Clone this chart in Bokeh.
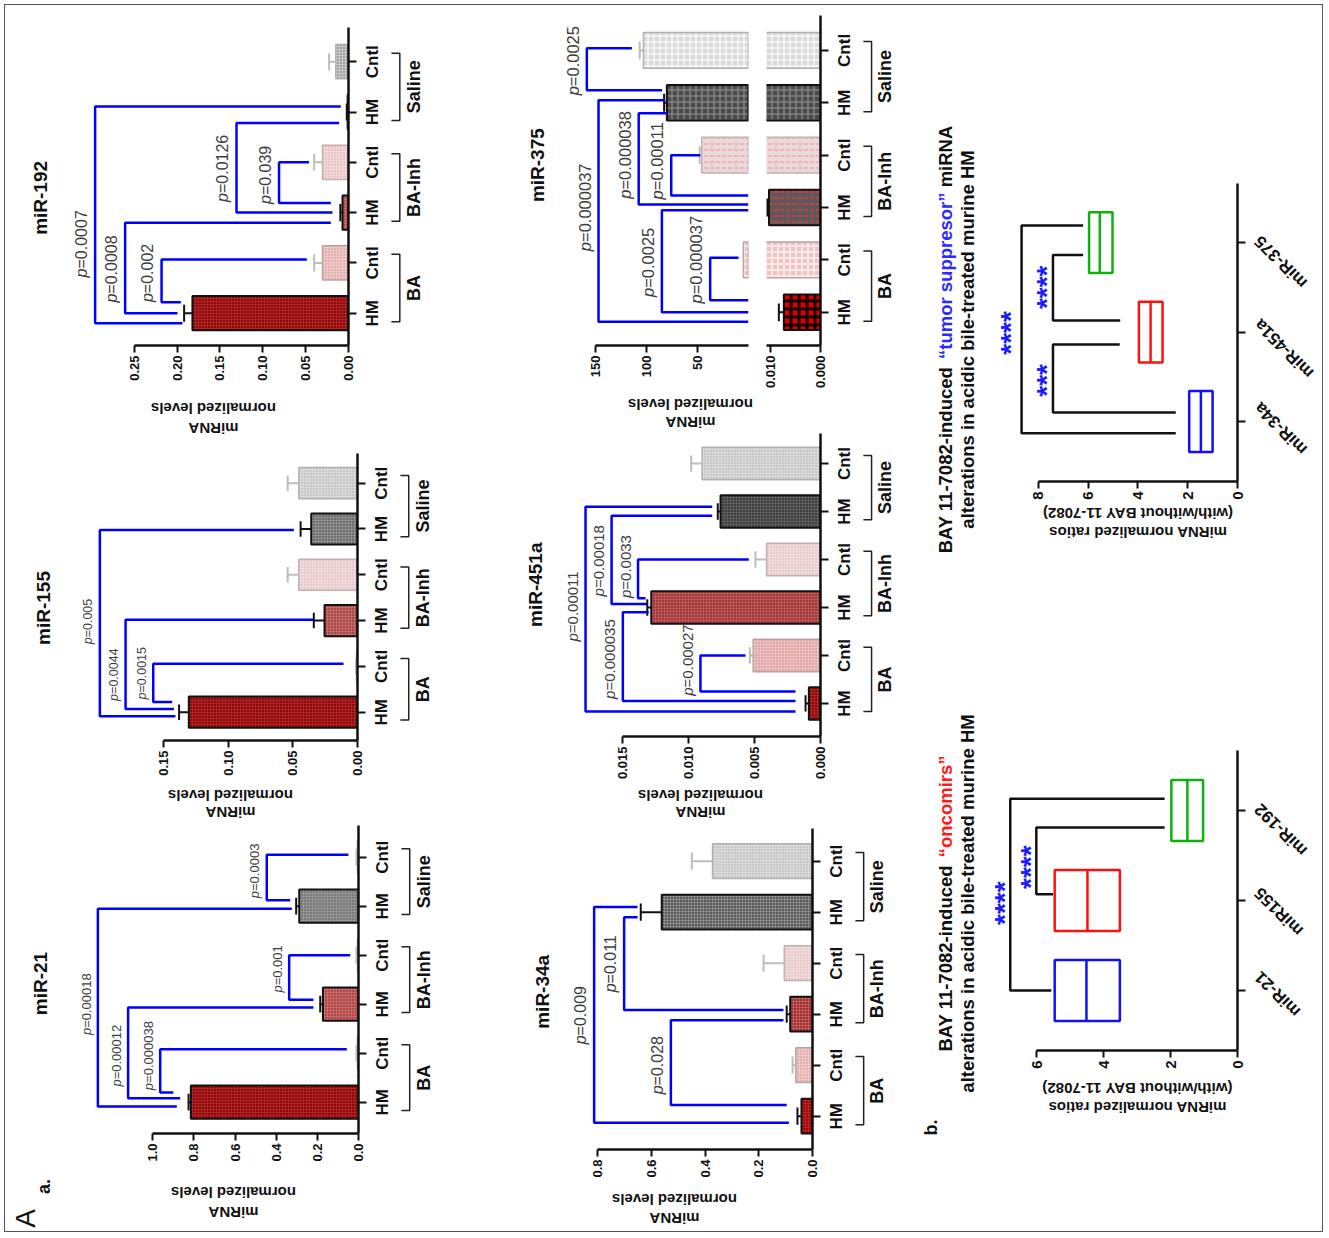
import math
from bokeh.plotting import figure
from bokeh.models import (Range1d, FixedTicker, ColumnDataSource,
                          CustomJSTickFormatter, Spacer)
from bokeh.layouts import row, column
from bokeh.embed import file_html
from bokeh.resources import INLINE
from bokeh.core.properties import value

FONT = "Liberation Sans"
INK = "#111111"

# ============================ DATA ============================
group_names = ["BA", "BA-Inh", "Saline"]
bar_names = ["HM", "Cntl", "HM", "Cntl", "HM", "Cntl"]
axis_lines = ["normalized levels", "miRNA"]

# tests: (bar a, leg shift a, leg end a, bar b, leg shift b, leg end b, bracket level, p, label position)
mir21_mean = [0.815, 0.005, 0.173, 0.005, 0.288, 0.005]
mir21_upper = [0.826, 0.010, 0.186, 0.010, 0.303, 0.010]
mir21_ticks = [0.0, 0.2, 0.4, 0.6, 0.8, 1.0]
mir21_tick_labels = ["0.0", "0.2", "0.4", "0.6", "0.8", "1.0"]
mir21_tests = [
    (0, 0.20, 0.900, 1, 0.08, 0.057, 0.964, "0.000038", 0.95),
    (0, 0.08, 0.867, 2, -0.07, 0.219, 1.120, "0.00012", 0.95),
    (0, -0.09, 0.883, 4, -0.05, 0.324, 1.267, "0.00018", 2.00),
    (2, 0.09, 0.219, 3, 0.00, 0.040, 0.337, "0.001", 2.72),
    (4, 0.12, 0.332, 5, 0.05, 0.049, 0.446, "0.0003", 4.72),
]

mir155_mean = [0.1305, 0.0007, 0.0255, 0.0454, 0.0358, 0.0454]
mir155_upper = [0.138, 0.0012, 0.0338, 0.054, 0.044, 0.054]
mir155_ticks = [0.0, 0.05, 0.10, 0.15]
mir155_tick_labels = ["0.00", "0.05", "0.10", "0.15"]
mir155_tests = [
    (0, 0.22, 0.1433, 1, 0.06, 0.0108, 0.158, "0.0015", 0.85),
    (0, 0.07, 0.142, 2, 0.02, 0.034, 0.1794, "0.0044", 0.82),
    (0, -0.09, 0.1408, 4, -0.02, 0.0492, 0.1993, "0.005", 1.98),
]

mir192_mean = [0.182, 0.0303, 0.007, 0.0303, 0.001, 0.0148]
mir192_upper = [0.1917, 0.040, 0.0095, 0.040, 0.002, 0.0226]
mir192_ticks = [0.0, 0.05, 0.10, 0.15, 0.20, 0.25]
mir192_tick_labels = ["0.00", "0.05", "0.10", "0.15", "0.20", "0.25"]
mir192_tests = [
    (0, 0.22, 0.1955, 1, 0.07, 0.0486, 0.218, "0.002", 0.80),
    (0, 0.00, 0.1994, 2, -0.20, 0.0206, 0.2605, "0.0008", 0.88),
    (0, -0.20, 0.1936, 4, 0.11, 0.009, 0.2955, "0.0007", 1.38),
    (2, 0.00, 0.0187, 4, -0.22, 0.011, 0.1306, "0.0126", 2.88),
    (2, 0.19, 0.0206, 3, 0.00, 0.046, 0.081, "0.039", 2.75),
]

mir34a_mean = [0.041, 0.062, 0.083, 0.105, 0.561, 0.372]
mir34a_upper = [0.056, 0.074, 0.096, 0.182, 0.639, 0.449]
mir34a_ticks = [0.0, 0.2, 0.4, 0.6, 0.8]
mir34a_tick_labels = ["0.0", "0.2", "0.4", "0.6", "0.8"]
mir34a_tests = [
    (0, 0.22, 0.096, 2, -0.12, 0.108, 0.527, "0.028", 1.00),
    (0, -0.13, 0.088, 4, 0.10, 0.651, 0.8126, "0.009", 1.98),
    (2, 0.08, 0.108, 4, -0.10, 0.651, 0.701, "0.011", 3.00),
]

mir451a_mean = [0.00088, 0.00509, 0.0128, 0.00408, 0.00756, 0.00895]
mir451a_upper = [0.00113, 0.00534, 0.0131, 0.00492, 0.00777, 0.00978]
mir451a_ticks = [0.0, 0.005, 0.010, 0.015]
mir451a_tick_labels = ["0.000", "0.005", "0.010", "0.015"]
mir451a_tests = [
    (0, 0.25, 0.00189, 1, 0.00, 0.00567, 0.00908, "0.00027", 0.90),
    (0, 0.05, 0.00189, 2, -0.10, 0.01300, 0.01495, "0.000035", 0.92),
    (0, -0.17, 0.00189, 4, 0.10, 0.00819, 0.01777, "0.00011", 2.03),
    (2, 0.07, 0.01310, 4, -0.09, 0.00819, 0.01580, "0.00018", 2.97),
    (2, 0.19, 0.01323, 3, 0.00, 0.00542, 0.01380, "0.0033", 2.85),
]

# miR-375 uses a broken value axis (low segment 0-0.010, high segment up to 150)
mir375_mean = [0.00733, 5.0, 0.0103, 46.0, 80.3, 103.3]
mir375_upper = [0.00833, 5.0, 0.0107, 48.0, 83.0, 107.0]
mir375_low_ticks = [0.0, 0.010]
mir375_low_tick_labels = ["0.000", "0.010"]
mir375_high_ticks = [50, 100, 150]
mir375_high_tick_labels = ["50", "100", "150"]
mir375_tests = [
    (0, 0.23, 0.0, 1, 0.04, 9.8, 37.7, "0.000037", 1.00),
    (0, 0.00, 0.0, 2, -0.05, 0.0, 85.2, "0.0025", 0.95),
    (0, -0.18, 0.0, 4, 0.05, 82.0, 147.5, "0.000037", 2.00),
    (2, 0.06, 0.0, 4, -0.20, 80.0, 108.0, "0.000038", 3.00),
    (2, 0.23, 0.0, 3, 0.00, 47.5, 76.0, "0.00011", 2.90),
    (4, 0.24, 85.0, 5, 0.04, 114.7, 159.0, "0.0025", 4.80),
]

# panel b: ratios with/without BAY 11-7082 (box = range, line = median)
onco_names = ["miR-21", "miR155", "miR-192"]
onco_low = [3.52, 3.52, 1.03]
onco_high = [5.47, 5.47, 1.98]
onco_median = [4.52, 4.49, 1.50]
onco_ticks = [0, 2, 4, 6]
onco_tick_labels = ["0", "2", "4", "6"]
onco_tests = [
    (0, 0.00, 5.57, 2, 0.13, 2.18, 6.80, "****", 0.97),
    (1, 0.07, 5.52, 2, -0.19, 2.18, 6.02, "****", 1.37),
]
supp_names = ["miR-34a", "miR-451a", "miR-375"]
supp_low = [1.00, 3.01, 5.02]
supp_high = [1.94, 3.96, 5.96]
supp_median = [1.47, 3.49, 5.53]
supp_ticks = [0, 2, 4, 6, 8]
supp_tick_labels = ["0", "2", "4", "6", "8"]
supp_tests = [
    (0, -0.13, 2.48, 2, 0.19, 6.20, 8.67, "****", 0.99),
    (0, 0.10, 2.48, 1, -0.14, 4.73, 7.41, "***", 0.46),
    (1, 0.13, 4.71, 2, -0.14, 6.20, 7.41, "****", 1.50),
]
ratio_axis_lines = ["(with/without BAY 11-7082)", "miRNA normalized ratios"]
onco_title = [[("BAY 11-7082-induced ", INK), ("\u201concomirs\u201d", "#ff1a1a")],
              [("alterations in acidic bile-treated murine HM", INK)]]
supp_title = [[("BAY 11-7082-induced ", INK), ("\u201ctumor suppresor\u201d", "#2a2aff"), (" miRNA", INK)],
              [("alterations in acidic bile-treated murine HM", INK)]]

# ============================ STYLES ============================
def make_style(**over):
    st = dict(
        fill=["#8c0a0a", "#e2a4a4", "#b04a4a", "#e6c4c4", "#7a7a7a", "#c2c2c2"],
        hatch=["#c83a3a", "#f7dcdc", "#d88080", "#f8e8e8", "#aaaaaa", "#e8e8e8"],
        line=["#111111", "#b8a2a2", "#111111", "#c0b0b0", "#111111", "#b0b0b0"],
        lw=[2, 1.5, 2, 1.5, 2, 1.5],
        err=["#111111", "#bdbdbd", "#111111", "#bdbdbd", "#111111", "#bdbdbd"],
        pattern=["cross"] * 6, scale=[3] * 6, weight=[1] * 6, alpha=[0.5] * 6)
    st.update(over)
    return st

REG = {"p": 556, "=": 584, ".": 278}
BOLD = {" ": 278, "-": 333, ".": 278, "/": 278, "(": 333, ")": 333,
        "\u201c": 500, "\u201d": 500, "A": 722, "B": 722, "H": 722, "M": 833,
        "N": 722, "R": 722, "Y": 667, "a": 556, "b": 611, "c": 556, "d": 611,
        "e": 556, "f": 333, "g": 611, "h": 611, "i": 278, "j": 278, "k": 556,
        "l": 278, "m": 889, "n": 611, "o": 611, "p": 611, "q": 611, "r": 389,
        "s": 556, "t": 333, "u": 611, "v": 556, "w": 778, "x": 556, "y": 556,
        "z": 500}


def text_w(s, size, table):
    return sum(table.get(ch, 556) for ch in s) * size / 1000.0


FMT = "const i = t.findIndex((v) => Math.abs(v - tick) < 1e-9); return i < 0 ? '' : l[i];"


def fmt(ticks, labels):
    return CustomJSTickFormatter(args=dict(t=list(ticks), l=list(labels)), code=FMT)


def new_fig(w, h, xr, yr, mbl, mbr, mbt, mbb, **kw):
    p = figure(width=w, height=h, x_range=xr, y_range=yr, toolbar_location=None,
               output_backend="svg", min_border_left=mbl, min_border_right=mbr,
               min_border_top=mbt, min_border_bottom=mbb, **kw)
    p.outline_line_color = None
    p.grid.visible = False
    return p


def strip_fig(width, height, items):
    """A plain text strip; y counts pixels down from its top edge."""
    s = new_fig(width, height, Range1d(0, width), Range1d(height, 0), 0, 0, 0, 0,
                x_axis_location=None, y_axis_location=None)
    for (x, y, t, ang, size, style, color, align) in items:
        s.text(x=[x], y=[y], text=[t], angle=ang, text_align=align,
               text_baseline="middle", text_font=value(FONT), text_font_size=size,
               text_font_style=style, text_color=color)
    return s


def axis_common(ax):
    ax.axis_line_color = INK
    ax.axis_line_width = 2.5
    ax.major_tick_line_color = INK
    ax.major_tick_line_width = 2
    ax.minor_tick_line_color = None
    ax.major_tick_in = 0


def value_axis(ax, ticks, labels, bounds, size="13px"):
    axis_common(ax)
    ax.ticker = FixedTicker(ticks=list(ticks))
    ax.formatter = fmt(ticks, labels)
    ax.bounds = bounds if bounds is not None else "auto"
    ax.major_tick_out = 7
    ax.major_label_orientation = math.pi / 2
    ax.major_label_standoff = 3
    ax.major_label_text_font = FONT
    ax.major_label_text_font_size = size
    ax.major_label_text_font_style = "bold"
    ax.major_label_text_color = INK


def cat_axis(ax, n=6):
    axis_common(ax)
    ax.ticker = FixedTicker(ticks=list(range(n)))
    ax.major_tick_out = 8
    ax.major_label_text_font_size = "1px"
    ax.major_label_text_color = None
    ax.major_label_standoff = 0


def group_fig(width, height, yr, mbt, mbb):
    b = new_fig(width, height, Range1d(0, width - 24), yr, 24, 0, mbt, mbb,
                x_axis_location=None, y_axis_location="left")
    ax = b.yaxis[0]
    ax.ticker = FixedTicker(ticks=list(range(6)))
    ax.formatter = fmt(range(6), bar_names)
    ax.major_label_orientation = "vertical"
    ax.axis_line_color = None
    ax.major_tick_line_color = None
    ax.minor_tick_line_color = None
    ax.major_label_standoff = 2
    ax.major_label_text_font = FONT
    ax.major_label_text_font_size = "17px"
    ax.major_label_text_font_style = "bold"
    ax.major_label_text_color = INK
    n = len(group_names)
    b.multi_line([[1, 10, 10, 1] for g in range(n)],
                 [[2 * g - 0.17, 2 * g - 0.17, 2 * g + 1.17, 2 * g + 1.17] for g in range(n)],
                 line_color="#222222", line_width=1.5)
    b.text(x=[25] * n, y=[2 * g + 0.5 for g in range(n)], text=group_names,
           angle=math.pi / 2, text_align="center", text_baseline="middle",
           text_font=value(FONT), text_font_size="18px", text_font_style="bold",
           text_color=INK)
    return b


def draw_bars(p, mean, st, keep=None, cap=None):
    idx = [i for i in range(len(mean)) if keep is None or keep(i)]
    src = ColumnDataSource(dict(
        y=idx,
        right=[mean[i] if cap is None else min(mean[i], cap) for i in idx],
        fill=[st["fill"][i] for i in idx], line=[st["line"][i] for i in idx],
        lw=[st["lw"][i] for i in idx], hp=[st["pattern"][i] for i in idx],
        hc=[st["hatch"][i] for i in idx], hs=[st["scale"][i] for i in idx],
        hw=[st["weight"][i] for i in idx], ha=[st["alpha"][i] for i in idx]))
    p.hbar(y="y", left=0, right="right", height=0.68, source=src,
           fill_color="fill", line_color="line", line_width="lw",
           hatch_pattern="hp", hatch_color="hc", hatch_scale="hs",
           hatch_weight="hw", hatch_alpha="ha")


def draw_errors(p, mean, upper, st, keep=None):
    idx = [i for i in range(len(mean)) if upper[i] > mean[i] and (keep is None or keep(i))]
    if not idx:
        return
    col = [st["err"][i] for i in idx]
    up = [upper[i] for i in idx]
    p.segment(x0=[mean[i] for i in idx], y0=idx, x1=up, y1=idx, line_color=col, line_width=2)
    p.segment(x0=up, y0=[i - 0.17 for i in idx], x1=up, y1=[i + 0.17 for i in idx],
              line_color=col, line_width=2)


def draw_tests(p, tests, xppu, yppc, fs):
    xs, ys = [], []
    px, py, rest = [], [], []
    gap = 0.6 * fs + 4
    for (a, ao, ae, b, bo, be, lvl, pv, lp) in tests:
        xs.append([ae, lvl, lvl, be])
        ys.append([a + ao, a + ao, b + bo, b + bo])
        r = "=" + pv
        wp = text_w("p", fs, REG)
        wr = text_w(r, fs, REG)
        px.append(lvl + gap / xppu)
        py.append(lp + (wp - (wp + wr) / 2.0) / yppc)
        rest.append(r)
    p.multi_line(xs, ys, line_color="#0000ff", line_width=2.5)
    common = dict(angle=math.pi / 2, text_baseline="middle", text_font=value(FONT),
                  text_font_size="%gpx" % fs, text_color="#3d3d3d")
    p.text(x=px, y=py, text=["p"] * len(px), text_align="right", text_font_style="italic", **common)
    p.text(x=px, y=py, text=rest, text_align="left", text_font_style="normal", **common)


def axis_items(x, ys, lines, size="15px"):
    return [(x, y, t, math.pi, size, "bold", INK, "center") for y, t in zip(ys, lines)]


def make_bar_panel(title, mean, upper, ticks, tick_labels, tests, st, lay, extra=()):
    W, H, tw, mbt, fh, mbb = lay["W"], lay["H"], lay["tw"], lay["mbt"], lay["fh"], lay["mbb"]
    Hm = mbt + fh + mbb
    yr = Range1d(lay["ymin"], lay["ymax"])
    p = new_fig(W - tw, Hm, Range1d(lay["xmax"], 0), yr, 0, 12, mbt, mbb,
                y_axis_location="right")
    value_axis(p.xaxis[0], ticks, tick_labels, (ticks[0], ticks[-1]))
    cat_axis(p.yaxis[0])
    fw = W - tw - 12
    xppu = fw / lay["xmax"]
    yppc = fh / (lay["ymax"] - lay["ymin"])
    draw_bars(p, mean, st)
    draw_errors(p, mean, upper, st)
    draw_tests(p, tests, xppu, yppc, lay["pfs"])
    g = group_fig(lay["cw"] - W, Hm, yr, mbt, mbb)
    t = strip_fig(tw, Hm, [(lay["tx"], lay["ty"], title, math.pi / 2, "19px", "bold", INK, "center")])
    items = axis_items(tw + fw - lay["ldx"], lay["ldy"], axis_lines) + list(extra)
    b = strip_fig(lay["cw"], H - Hm, items)
    return column(row(t, p, g), b)


def make_split_panel(st):
    H, tw, mbt, fh, mbb = 424, 90, 7, 332, 44
    Hm = mbt + fh + mbb
    ymin, ymax = -0.634, 5.666
    yr = Range1d(ymin, ymax)
    thr = 0.0108
    L = new_fig(202, Hm, Range1d(184.9, 0), yr, 0, 14, mbt, mbb, y_axis_location=None)
    value_axis(L.xaxis[0], mir375_high_ticks, mir375_high_tick_labels, (0, 150))
    xppu = 188 / 184.9
    yppc = fh / (ymax - ymin)
    draw_bars(L, mir375_mean, st, keep=lambda i: mir375_mean[i] > thr)
    draw_errors(L, mir375_mean, mir375_upper, st, keep=lambda i: mir375_upper[i] > thr)
    draw_tests(L, mir375_tests, xppu, yppc, 16.5)
    R = new_fig(70, Hm, Range1d(thr, 0), yr, 4, 12, mbt, mbb, y_axis_location="right")
    value_axis(R.xaxis[0], mir375_low_ticks, mir375_low_tick_labels, None)
    cat_axis(R.yaxis[0])
    draw_bars(R, mir375_mean, st, cap=1.5 * thr)
    draw_errors(R, mir375_mean, mir375_upper, st, keep=lambda i: mir375_upper[i] <= thr)
    G = group_fig(450 - 292 - 70, Hm, yr, mbt, mbb)
    t = strip_fig(tw, Hm, [(66.7, 173.7, "miR-375", math.pi / 2, "19px", "bold", INK, "center")])
    b = strip_fig(450, H - Hm, axis_items(tw + 188 - 58, (13, 31), axis_lines))
    return column(row(t, L, R, G), b)


def title_items(xs, yc, lines, size):
    items = []
    for x, pieces in zip(xs, lines):
        total = sum(text_w(t, size, BOLD) for t, c in pieces)
        bottom = yc + total / 2.0
        acc = 0.0
        for t, c in pieces:
            lead = len(t) - len(t.lstrip(" "))
            items.append((x, bottom - acc - text_w(" " * lead, size, BOLD), t.strip(" "),
                          math.pi / 2, "%gpx" % size, "bold", c, "left"))
            acc += text_w(t, size, BOLD)
    return items


def make_box_panel(names, lo, hi, med, tests, ticks, tick_labels, title, lay, extra=()):
    H, mbt, fh, mbb = lay["H"], lay["mbt"], lay["fh"], lay["mbb"]
    FW = 257
    Hb = mbt + fh + mbb
    ymin, ymax = lay["ymin"], lay["ymax"]
    colors = ["#1010ff", "#ff1010", "#10b010"]
    p = new_fig(FW + 12, Hb, Range1d(lay["xmax"], 0), Range1d(ymin, ymax),
                0, 12, mbt, mbb, y_axis_location="right")
    xppu = FW / lay["xmax"]
    yppc = fh / (ymax - ymin)
    pos = list(range(len(names)))
    p.hbar(y=pos, left=lo, right=hi, height=0.68, fill_color=None,
           line_color=colors, line_width=2.5)
    p.segment(x0=med, x1=med, y0=[y - 0.34 for y in pos], y1=[y + 0.34 for y in pos],
              line_color=colors, line_width=2.5)
    xs, ys, sx, sy, st = [], [], [], [], []
    for k, (a, ao, ae, b, bo, be, lvl, stars, lp) in enumerate(tests):
        xs.append([ae, lvl, lvl, be])
        ys.append([a + ao, a + ao, b + bo, b + bo])
        sx.append(lvl + lay["gaps"][k] / xppu)
        sy.append(lp)
        st.append(stars)
    p.multi_line(xs, ys, line_color=INK, line_width=2.5)
    p.text(x=sx, y=sy, text=st, angle=math.pi / 2, text_align="center",
           text_baseline="middle", text_font=value(FONT), text_font_size="28px",
           text_font_style="bold", text_color="#1a1aff")
    value_axis(p.xaxis[0], ticks, tick_labels, (ticks[0], ticks[-1]), size="15px")
    cat_axis(p.yaxis[0], len(names))
    # category names, written upside-down along the diagonal as in the original
    lw_ = 339 - FW - 12
    lab = new_fig(lw_, Hb, Range1d(0, lw_), Range1d(ymin - mbb / yppc, ymax), 0, 0, mbt, 0,
                  x_axis_location=None, y_axis_location=None)
    lab.text(x=[8] * len(pos), y=pos, text=names,
             angle=3 * math.pi / 4, text_align="right", text_baseline="middle",
             text_font=value(FONT), text_font_size="17px", text_font_style="bold",
             text_color=INK)
    mid_px = FW - (ticks[0] + ticks[-1]) / 2.0 * xppu
    s = strip_fig(339, H - Hb, axis_items(mid_px, lay["ldy"], ratio_axis_lines))
    t = strip_fig(60, H, title_items((25, 46.7), lay["tyc"], title, lay["tfs"]) + list(extra))
    return row(t, column(row(p, lab), s))


# ============================ LAYOUT ============================
base = make_style()
s155 = make_style(fill=["#8c0a0a", "#e2a4a4", "#a84a4a", "#e8caca", "#6e6e6e", "#c8c8c8"])
s192 = make_style(fill=["#8c0a0a", "#e4b0b0", "#b04a4a", "#e8c4c4", "#7a7a7a", "#a2a2a2"])
s34 = make_style(fill=["#a00a0a", "#e6b0b0", "#a03030", "#e8caca", "#5c5c5c", "#c8c8c8"])
s451 = make_style(fill=["#8c0a0a", "#e2a4a4", "#a03a3a", "#e8cccc", "#3f3f3f", "#c8c8c8"],
                  hatch=["#c83a3a", "#f7dcdc", "#d07070", "#f8e8e8", "#777777", "#e8e8e8"])
s375 = make_style(fill=["#e00000", "#f0c2c2", "#5a5a5a", "#e8dada", "#4a4a4a", "#dadada"],
                  hatch=["#000000", "#ffffff", "#ff3030", "#ff9a9a", "#a8a8a8", "#ffffff"],
                  pattern=["cross", "cross", "horizontal_dash", "horizontal_dash", "cross", "cross"],
                  scale=[8, 6, 6, 6, 6, 6], weight=[3, 1.5, 1.5, 1.5, 1.5, 1.5],
                  alpha=[0.9, 0.8, 0.9, 0.8, 0.6, 0.8])

L192 = dict(W=352, H=432, tw=62, mbt=19, fh=318, mbb=40, xmax=0.3242, ymin=-0.642, ymax=5.68,
            tx=32, ty=202, pfs=16, ldx=135, ldy=(23, 43), cw=462)
L155 = dict(W=361, H=382, tw=62, mbt=13, fh=287, mbb=40, xmax=0.222, ymin=-0.618, ymax=5.648,
            tx=35, ty=183, pfs=12.5, ldx=127, ldy=(15, 32), cw=462)
L21 = dict(W=362, H=406, tw=62, mbt=3, fh=308, mbb=36, xmax=1.400, ymin=-0.639, ymax=5.647,
           tx=32, ty=178, pfs=13, ldx=125, ldy=(23, 43), cw=462)
L451 = dict(W=362, H=390, tw=90, mbt=1, fh=305, mbb=44, xmax=0.019664, ymin=-0.689, ymax=5.626,
            tx=65, ty=174.7, pfs=15, ldx=120, ldy=(13, 30), cw=450)
L34 = dict(W=354, H=406, tw=90, mbt=6, fh=321, mbb=36, xmax=0.9377, ymin=-0.653, ymax=5.641,
           tx=71.7, ty=184.7, pfs=16, ldx=138, ldy=(14, 33), cw=450)
LT = dict(H=592, mbt=175, fh=298, mbb=22, xmax=10.32, ymin=-0.67, ymax=2.66,
          tyc=331, tfs=18.5, ldy=(10, 29), gaps=(11, 6, 6))
LO = dict(H=628, mbt=150, fh=300, mbb=22, xmax=7.69, ymin=-0.667, ymax=2.667,
          tyc=303, tfs=18.5, ldy=(16, 35), gaps=(6, 6))

r192 = make_bar_panel("miR-192", mir192_mean, mir192_upper, mir192_ticks,
                      mir192_tick_labels, mir192_tests, s192, L192)
r155 = make_bar_panel("miR-155", mir155_mean, mir155_upper, mir155_ticks,
                      mir155_tick_labels, mir155_tests, s155, L155)
r21 = make_bar_panel("miR-21", mir21_mean, mir21_upper, mir21_ticks,
                     mir21_tick_labels, mir21_tests, base, L21,
                     extra=[(17, 49, "A", math.pi / 2, "28px", "normal", INK, "center"),
                            (35, 17, "a.", math.pi / 2, "18px", "bold", INK, "center")])
r375 = make_split_panel(s375)
r451 = make_bar_panel("miR-451a", mir451a_mean, mir451a_upper, mir451a_ticks,
                      mir451a_tick_labels, mir451a_tests, s451, L451)
r34 = make_bar_panel("miR-34a", mir34a_mean, mir34a_upper, mir34a_ticks,
                     mir34a_tick_labels, mir34a_tests, s34, L34)
rT = make_box_panel(supp_names, supp_low, supp_high, supp_median, supp_tests,
                    supp_ticks, supp_tick_labels, supp_title, LT)
rO = make_box_panel(onco_names, onco_low, onco_high, onco_median, onco_tests,
                    onco_ticks, onco_tick_labels, onco_title, LO,
                    extra=[(10, 527, "b.", math.pi / 2, "18px", "bold", INK, "center")])

content = row(column(r192, r155, r21), column(r375, r451, r34), column(rT, rO),
              styles={"outline": "1px solid #555555", "outline-offset": "3px"})
page = column(Spacer(width=1319, height=8), row(Spacer(width=8, height=1220), content))

open("out.html", "w").write(file_html(page, INLINE))
